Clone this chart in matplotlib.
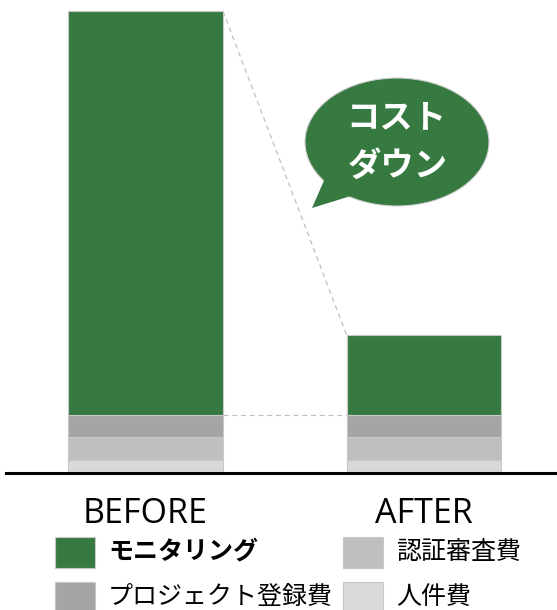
import matplotlib
matplotlib.use('Agg')
import matplotlib.pyplot as plt
from matplotlib.patches import Ellipse, Polygon, Rectangle
import numpy as np

plt.rcParams['font.family'] = ['Noto Sans CJK JP', 'DejaVu Sans']

# data (arbitrary units)
stages = ['BEFORE', 'AFTER']
series = ['人件費', '認証審査費', 'プロジェクト登録費', 'モニタリング']
values = {
    '人件費': [13, 13],
    '認証審査費': [23, 23],
    'プロジェクト登録費': [22, 22],
    'モニタリング': [404, 80],
}
colors = {
    '人件費': '#d9d9d9',
    '認証審査費': '#bfbfbf',
    'プロジェクト登録費': '#a5a5a5',
    'モニタリング': '#367a42',
}
legend_order = ['モニタリング', 'プロジェクト登録費', '認証審査費', '人件費']

W, H = 557, 610
fig = plt.figure(figsize=(W / 100, H / 100), dpi=100)

base_px = 473
ax = fig.add_axes([0, (H - base_px) / H, 1, base_px / H])
x = np.arange(len(stages))
bw = 0.556
ax.set_xlim(-145.5 / 278.5, (W - 145.5) / 278.5)
ax.set_ylim(0, base_px)
ax.axis('off')

bottom = np.zeros(len(stages))
for s in series:
    v = np.array(values[s], dtype=float)
    ax.bar(x, v, bw, bottom=bottom, color=colors[s], edgecolor='#c8c8c8',
           linewidth=0.8, zorder=2)
    bottom += v

# dashed connectors between the two bars
tops = bottom
fixed = bottom - np.array(values['モニタリング'])
for yy in (tops, fixed):
    ax.plot([x[0] + bw / 2, x[1] - bw / 2], [yy[0], yy[1]], ls=(0, (4, 3)),
            color='#c0c0c0', lw=0.9, zorder=1)

ax.axhline(0, xmin=6 / W, xmax=1, color='black', lw=2.2, zorder=3, clip_on=False)

for xi, lab in zip(x, stages):
    ax.text(xi, -41, lab, ha='center', va='center', fontsize=24.5,
            family=['Open Sans', 'DejaVu Sans'], clip_on=False)

# overlay in pixel coordinates for bubble and legend
ov = fig.add_axes([0, 0, 1, 1])
ov.set_xlim(0, W)
ov.set_ylim(H, 0)
ov.axis('off')
ov.patch.set_alpha(0)

green = colors['モニタリング']
ov.add_patch(Ellipse((397, 142), 184, 128, facecolor=green,
                     edgecolor='#d0d0d0', lw=0.8, zorder=4))
ov.add_patch(Polygon([[326, 176], [312, 208], [354, 195]], closed=True,
                     facecolor=green, edgecolor='none', zorder=5))
ov.text(396, 118, 'コスト', color='white', fontsize=24, fontweight='bold',
        ha='center', va='center', zorder=6)
ov.text(398, 166, 'ダウン', color='white', fontsize=24, fontweight='bold',
        ha='center', va='center', zorder=6)

# legend
col_x = [55, 343]
row_y = [552, 597]
for i, s in enumerate(legend_order):
    cx = col_x[i // 2]
    cy = row_y[i % 2]
    ov.add_patch(Rectangle((cx, cy - 15.5), 40, 31, facecolor=colors[s],
                           edgecolor='#c8c8c8', lw=0.8))
    ov.text(cx + 53, cy, s, fontsize=18, va='center', ha='left',
            fontweight='bold' if s == 'モニタリング' else 'normal')

fig.savefig('out.png', dpi=100)
